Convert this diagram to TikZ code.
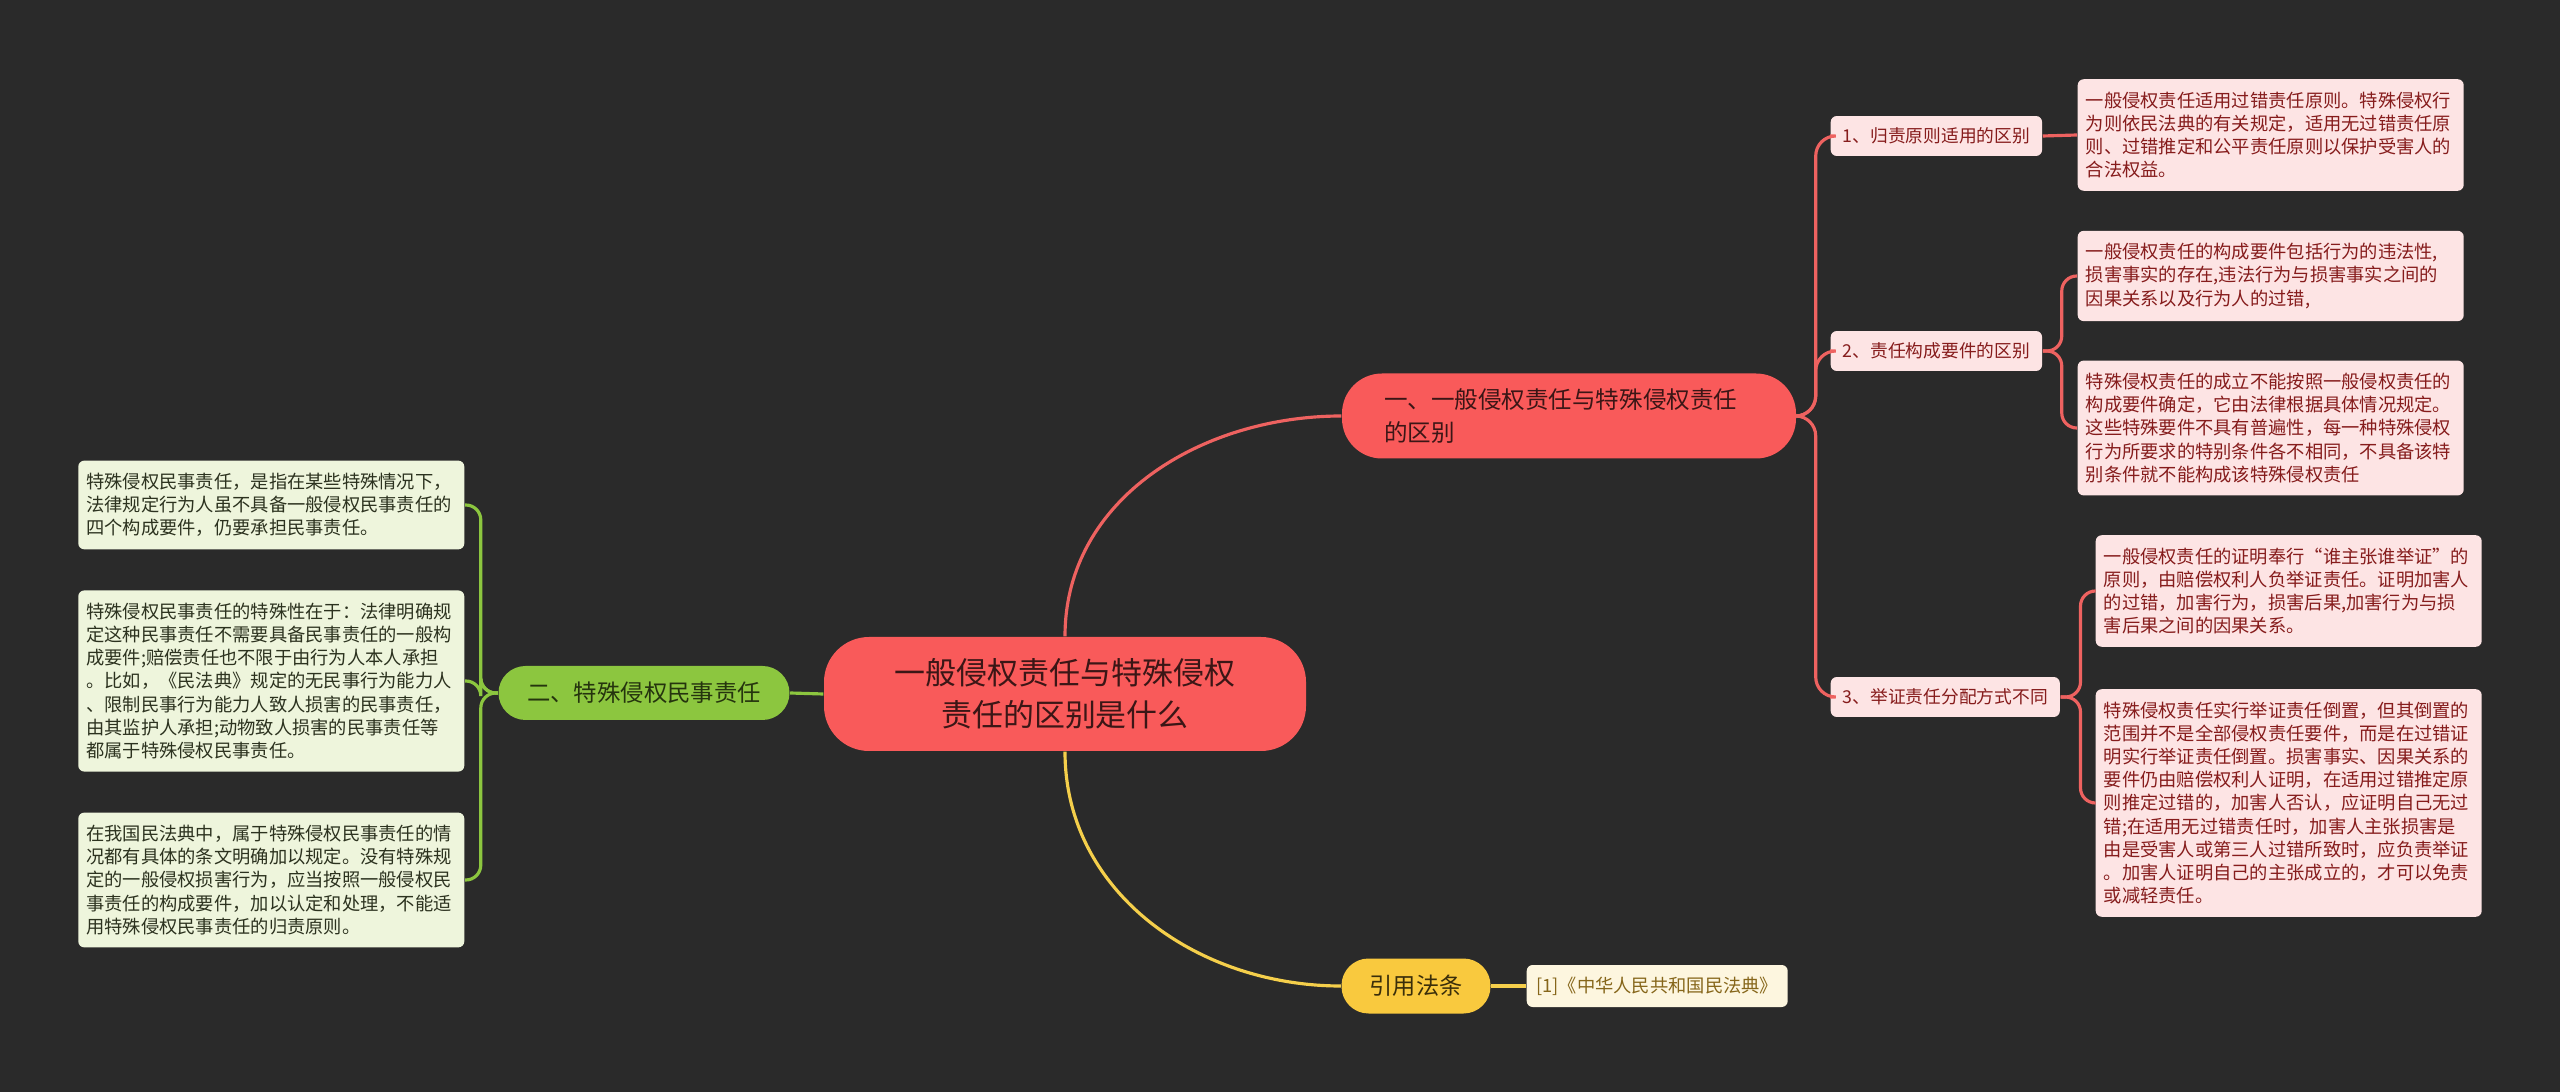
\documentclass[tikz,border=0pt]{standalone}
\usepackage{fontspec}
\setmainfont{Noto Sans CJK SC}
\definecolor{bgc}{HTML}{2A2A2A}
\definecolor{redf}{HTML}{F95A5A}
\definecolor{redln}{HTML}{EE6260}
\definecolor{redtx}{HTML}{3B1616}
\definecolor{pinkf}{HTML}{FDE4E4}
\definecolor{pinktx}{HTML}{861C1C}
\definecolor{grnf}{HTML}{8CC63F}
\definecolor{grntx}{HTML}{25340E}
\definecolor{grnlf}{HTML}{EEF5DC}
\definecolor{grnlftx}{HTML}{2C321F}
\definecolor{yelf}{HTML}{F9C93E}
\definecolor{yeltx}{HTML}{3A2E0A}
\definecolor{yellf}{HTML}{FDF6DF}
\definecolor{yellftx}{HTML}{86661A}
\definecolor{yelln}{HTML}{F5CF4B}
\begin{document}
\begin{tikzpicture}[x=1cm,y=1cm]
  \tikzset{
    lf/.style={rounded corners=0.06cm, inner xsep=0.08cm, inner ysep=0.125cm, text width=3.7cm, align=left, font=\fontsize{5.2pt}{6.6pt}\selectfont},
    redleaf/.style={lf, fill=pinkf, text=pinktx, anchor=west},
    grnleaf/.style={lf, fill=grnlf, text=grnlftx, anchor=east},
    sublbl/.style={fill=pinkf, text=pinktx, rounded corners=0.06cm, inner xsep=0.12cm, minimum height=0.35cm, anchor=west, font=\fontsize{5.05pt}{6pt}\selectfont},
    pill/.style={rounded corners=#1, inner sep=0pt},
    redln/.style={draw=redln, line width=0.9pt},
    grnln/.style={draw=grnf, line width=0.9pt},
    yelln/.style={draw=yelln, line width=0.9pt}
  }
  \fill[bgc] (0,0) rectangle (25.6,-10.92);
  \node[pill=0.45cm, fill=redf, text=redtx, minimum width=4.82cm, minimum height=1.14cm, align=center, font=\fontsize{8.8pt}{11.9pt}\selectfont] (root) at (10.65,-6.94) {一般侵权责任与特殊侵权\\责任的区别是什么};
  \node[pill=0.4cm, fill=redf, text=redtx, minimum width=4.54cm, minimum height=0.85cm, text width=3.7cm, align=left, font=\fontsize{6.7pt}{9.4pt}\selectfont] (br) at (15.69,-4.16) {一、一般侵权责任与特殊侵权责任\\的区别};
  \node[pill=0.27cm, fill=grnf, text=grntx, minimum width=2.91cm, minimum height=0.54cm, font=\fontsize{6.65pt}{8pt}\selectfont] (gr) at (6.44,-6.93) {二、特殊侵权民事责任};
  \node[pill=0.27cm, fill=yelf, text=yeltx, minimum width=1.49cm, minimum height=0.55cm, font=\fontsize{6.6pt}{8pt}\selectfont] (yl) at (14.16,-9.86) {引用法条};
  \node[fill=yellf, text=yellftx, rounded corners=0.06cm, inner xsep=0.08cm, minimum width=2.61cm, minimum height=0.42cm, anchor=west, font=\fontsize{5.2pt}{7pt}\selectfont] (ylf) at (15.26,-9.86) {[1]《中华人民共和国民法典》};

  \node[sublbl] (s1) at (18.30,-1.36) {1、归责原则适用的区别};
  \node[sublbl] (s2) at (18.30,-3.51) {2、责任构成要件的区别};
  \node[sublbl] (s3) at (18.30,-6.97) {3、举证责任分配方式不同};

  \node[redleaf] (l1) at (20.77,-1.35) {一般侵权责任适用过错责任原则。特殊侵权行\\为则依民法典的有关规定，适用无过错责任原\\则、过错推定和公平责任原则以保护受害人的\\合法权益。};
  \node[redleaf] (l2a) at (20.77,-2.76) {一般侵权责任的构成要件包括行为的违法性,\\损害事实的存在,违法行为与损害事实之间的\\因果关系以及行为人的过错,};
  \node[redleaf] (l2b) at (20.77,-4.28) {特殊侵权责任的成立不能按照一般侵权责任的\\构成要件确定，它由法律根据具体情况规定。\\这些特殊要件不具有普遍性，每一种特殊侵权\\行为所要求的特别条件各不相同，不具备该特\\别条件就不能构成该特殊侵权责任};
  \node[redleaf] (l3a) at (20.95,-5.91) {一般侵权责任的证明奉行“谁主张谁举证”的\\原则，由赔偿权利人负举证责任。证明加害人\\的过错，加害行为，损害后果,加害行为与损\\害后果之间的因果关系。};
  \node[redleaf] (l3b) at (20.95,-8.03) {特殊侵权责任实行举证责任倒置，但其倒置的\\范围并不是全部侵权责任要件，而是在过错证\\明实行举证责任倒置。损害事实、因果关系的\\要件仍由赔偿权利人证明，在适用过错推定原\\则推定过错的，加害人否认，应证明自己无过\\错;在适用无过错责任时，加害人主张损害是\\由是受害人或第三人过错所致时，应负责举证\\。加害人证明自己的主张成立的，才可以免责\\或减轻责任。};

  \node[grnleaf] (g1) at (4.65,-5.05) {特殊侵权民事责任，是指在某些特殊情况下，\\法律规定行为人虽不具备一般侵权民事责任的\\四个构成要件，仍要承担民事责任。};
  \node[grnleaf] (g2) at (4.65,-6.81) {特殊侵权民事责任的特殊性在于：法律明确规\\定这种民事责任不需要具备民事责任的一般构\\成要件;赔偿责任也不限于由行为人本人承担\\。比如，《民法典》规定的无民事行为能力人\\、限制民事行为能力人致人损害的民事责任，\\由其监护人承担;动物致人损害的民事责任等\\都属于特殊侵权民事责任。};
  \node[grnleaf] (g3) at (4.65,-8.80) {在我国民法典中，属于特殊侵权民事责任的情\\况都有具体的条文明确加以规定。没有特殊规\\定的一般侵权损害行为，应当按照一般侵权民\\事责任的构成要件，加以认定和处理，不能适\\用特殊侵权民事责任的归责原则。};

  \draw[redln] (root.north) to[out=90,in=180] (br.west);
  \draw[yelln] (root.south) to[out=-90,in=180] (yl.west);
  \draw[grnln] (root.west) -- (gr.east);
  \draw[yelln] (yl.east) -- (ylf.west);
  \foreach \s in {s1,s2,s3}
    \draw[redln, rounded corners=0.2cm] (br.east) -- ++(0.19,0) |- (\s.west);
  \draw[redln] (s1.east) -- (l1.west);
  \foreach \l in {l2a,l2b}
    \draw[redln, rounded corners=0.15cm] (s2.east) -- ++(0.19,0) |- (\l.west);
  \foreach \l in {l3a,l3b}
    \draw[redln, rounded corners=0.15cm] (s3.east) -- ++(0.20,0) |- (\l.west);
  \foreach \g in {g1,g2,g3}
    \draw[grnln, rounded corners=0.15cm] (gr.west) -- ++(-0.17,0) |- (\g.east);
\end{tikzpicture}
\end{document}
